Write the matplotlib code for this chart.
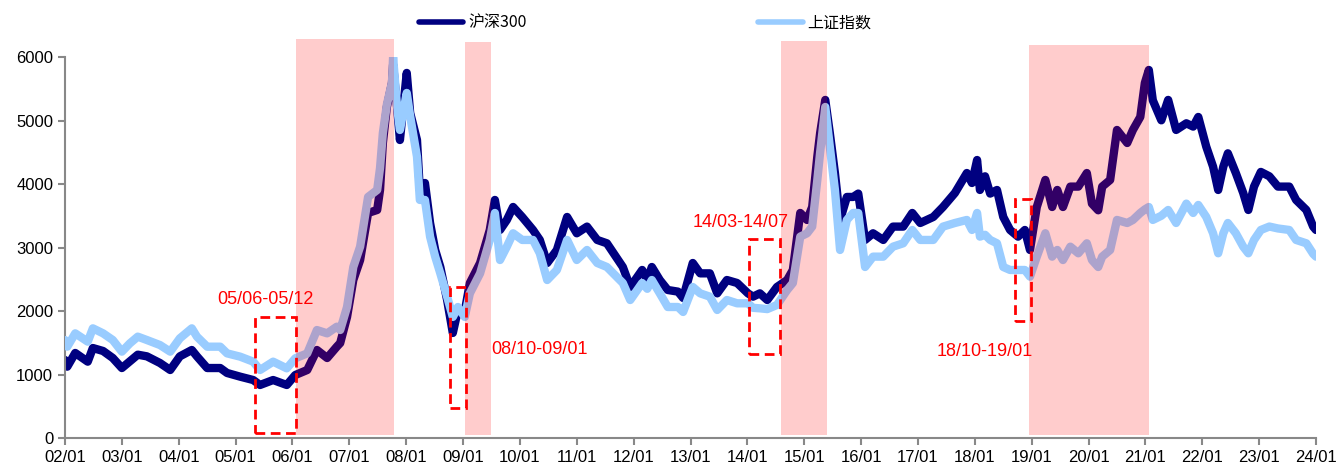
import matplotlib.pyplot as plt
from matplotlib.lines import Line2D
from matplotlib.patches import Rectangle

plt.rcParams['font.family'] = ['Liberation Sans', 'DejaVu Sans']

# decimal-year dates and closing levels
dates = [2002.00, 2002.04, 2002.18, 2002.40, 2002.49, 2002.67, 2002.84, 2003.00, 2003.14, 2003.28,
         2003.44, 2003.67, 2003.85, 2004.02, 2004.23, 2004.32, 2004.50, 2004.73, 2004.85, 2005.08,
         2005.31, 2005.43, 2005.66, 2005.90, 2006.05, 2006.26, 2006.43, 2006.61, 2006.78, 2006.84,
         2006.96, 2007.07, 2007.19, 2007.33, 2007.49, 2007.54, 2007.59, 2007.66, 2007.75, 2007.77,
         2007.84, 2007.89, 2008.01, 2008.07, 2008.19, 2008.24, 2008.33, 2008.42, 2008.51, 2008.60,
         2008.72, 2008.82, 2008.91, 2009.03, 2009.12, 2009.30, 2009.47, 2009.56, 2009.65, 2009.77,
         2009.88, 2010.04, 2010.23, 2010.35, 2010.48, 2010.65, 2010.83, 2011.00, 2011.18, 2011.36,
         2011.53, 2011.81, 2011.94, 2012.15, 2012.24, 2012.32, 2012.46, 2012.60, 2012.78, 2012.87,
         2013.04, 2013.17, 2013.34, 2013.47, 2013.64, 2013.82, 2014.01, 2014.10, 2014.22, 2014.35,
         2014.52, 2014.70, 2014.80, 2014.93, 2015.05, 2015.14, 2015.23, 2015.28, 2015.37, 2015.45,
         2015.54, 2015.63, 2015.75, 2015.86, 2015.95, 2016.07, 2016.21, 2016.39, 2016.56, 2016.74,
         2016.90, 2017.04, 2017.27, 2017.44, 2017.65, 2017.86, 2017.95, 2018.04, 2018.09, 2018.18,
         2018.27, 2018.39, 2018.50, 2018.62, 2018.76, 2018.88, 2018.97, 2019.09, 2019.24, 2019.36,
         2019.45, 2019.55, 2019.68, 2019.82, 2019.97, 2020.06, 2020.17, 2020.24, 2020.38, 2020.50,
         2020.68, 2020.78, 2020.91, 2020.99, 2021.06, 2021.13, 2021.28, 2021.40, 2021.54, 2021.72,
         2021.84, 2021.93, 2022.07, 2022.19, 2022.28, 2022.37, 2022.45, 2022.59, 2022.72, 2022.81,
         2022.91, 2023.03, 2023.18, 2023.33, 2023.53, 2023.65, 2023.83, 2023.95, 2024.00]

hs300 = [1228, 1123, 1339, 1202, 1417, 1370, 1260, 1102, 1207, 1312,
         1286, 1181, 1071, 1286, 1386, 1286, 1102, 1102, 1024, 966,
         913, 835, 913, 835, 992, 1071, 1386, 1260, 1438, 1496,
         1906, 2488, 2803, 3544, 3591, 3906, 4646, 5213, 5591, 5880,
         5213, 4693, 5749, 5119, 4693, 3906, 4016, 3386, 2961, 2693,
         2173, 1654, 2016, 1995, 2441, 2756, 3276, 3749, 3276, 3434,
         3638, 3481, 3276, 3119, 2756, 2961, 3481, 3224, 3329, 3119,
         3066, 2693, 2378, 2646, 2488, 2693, 2488, 2331, 2305, 2205,
         2756, 2593, 2593, 2278, 2488, 2441, 2278, 2226, 2278, 2173,
         2378, 2488, 2646, 3544, 3434, 3638, 4430, 4804, 5324, 4804,
         4173, 3434, 3796, 3796, 3849, 3119, 3224, 3119, 3329, 3329,
         3544, 3386, 3481, 3638, 3859, 4173, 4016, 4378, 3906, 4121,
         3849, 3906, 3481, 3276, 3171, 3276, 2961, 3638, 4064, 3638,
         3906, 3638, 3959, 3959, 4173, 3691, 3586, 3959, 4064, 4851,
         4646, 4851, 5056, 5591, 5796, 5318, 5003, 5324, 4851, 4956,
         4904, 5056, 4588, 4273, 3906, 4273, 4483, 4173, 3859, 3591,
         3959, 4190, 4121, 3959, 3959, 3749, 3591, 3329, 3276]

sh_index = [1543, 1438, 1648, 1517, 1727, 1648, 1543, 1360, 1490, 1596,
            1543, 1464, 1360, 1570, 1727, 1596, 1438, 1438, 1333, 1281,
            1202, 1071, 1202, 1097, 1255, 1333, 1700, 1648, 1753, 1701,
            2063, 2693, 3013, 3796, 3906, 4250, 4804, 5250, 5600, 6000,
            5213, 4851, 5434, 5067, 4430, 3749, 3749, 3171, 2856, 2593,
            2226, 1906, 2063, 1906, 2278, 2593, 3119, 3544, 2803, 3013,
            3224, 3119, 3119, 2909, 2488, 2646, 3119, 2803, 2961, 2756,
            2693, 2441, 2173, 2441, 2350, 2488, 2278, 2063, 2063, 1985,
            2378, 2278, 2226, 2016, 2173, 2121, 2121, 2050, 2042, 2030,
            2095, 2331, 2441, 3171, 3224, 3329, 4064, 4500, 5213, 4588,
            3906, 2961, 3434, 3544, 3544, 2693, 2856, 2856, 3013, 3066,
            3276, 3119, 3119, 3329, 3386, 3434, 3276, 3544, 3171, 3200,
            3119, 3066, 2693, 2646, 2646, 2646, 2541, 2856, 3224, 2856,
            2961, 2803, 3013, 2909, 3066, 2803, 2693, 2856, 2961, 3434,
            3386, 3434, 3544, 3600, 3638, 3434, 3500, 3591, 3386, 3691,
            3544, 3670, 3481, 3224, 2909, 3224, 3386, 3224, 3013, 2909,
            3119, 3276, 3330, 3300, 3276, 3119, 3066, 2900, 2856]

# shaded rally periods: start, end, top
shade_start = [2006.06, 2009.03, 2014.59, 2018.95]
shade_end = [2007.79, 2009.50, 2015.40, 2021.06]
shade_top = [6284, 6237, 6253, 6190]

# dashed bottom-zone boxes: start, end, low, high, label, label position
box_start = [2005.34, 2008.77, 2014.03, 2018.71]
box_end = [2006.06, 2009.05, 2014.58, 2018.99]
box_low = [84, 472, 1318, 1848]
box_high = [1911, 2383, 3129, 3760]
box_labels = ['05/06-05/12', '08/10-09/01', '14/03-14/07', '18/10-19/01']
label_x = [2005.52, 2010.35, 2013.89, 2018.18]
label_y = [2178, 1386, 3394, 1362]

years = list(range(2002, 2025))
year_labels = [f'{y % 100:02d}/01' for y in years]

fig = plt.figure(figsize=(13.36, 4.69), dpi=100)
ax = fig.add_axes([65 / 1336, 31 / 469, (1316 - 65) / 1336, (438 - 57) / 469])

navy = '#000080'
light = '#99CCFF'
ax.plot(dates, hs300, color=navy, lw=6, solid_joinstyle='round', solid_capstyle='round', zorder=2)
ax.plot(dates, sh_index, color=light, lw=6, solid_joinstyle='round', solid_capstyle='round', zorder=3)

for s, e, t in zip(shade_start, shade_end, shade_top):
    ax.add_patch(Rectangle((s, 40), e - s, t - 40, facecolor='red', alpha=0.2,
                           edgecolor='none', clip_on=False, zorder=4))

for s, e, lo, hi in zip(box_start, box_end, box_low, box_high):
    ax.add_patch(Rectangle((s, lo), e - s, hi - lo, facecolor='none', edgecolor='red',
                           lw=2, ls=(0, (3.5, 2)), clip_on=False, zorder=5))

for txt, x, y in zip(box_labels, label_x, label_y):
    ax.text(x, y, txt, color='red', fontsize=13, ha='center', va='center', zorder=6)

ax.set_xlim(2002, 2024)
ax.set_ylim(0, 6000)
ax.set_xticks(years)
ax.set_xticklabels(year_labels)
ax.set_yticks(range(0, 6001, 1000))
for side in ('top', 'right'):
    ax.spines[side].set_visible(False)
for side in ('left', 'bottom'):
    ax.spines[side].set_color('#888888')
    ax.spines[side].set_linewidth(1.5)
ax.tick_params(axis='both', direction='out', length=5, width=1.5, color='#888888',
               labelsize=12, labelcolor='black')

handles = [Line2D([], [], color=navy, lw=4, solid_capstyle='round'),
           Line2D([], [], color=light, lw=4, solid_capstyle='round')]
fig.legend(handles, ['沪深300', '上证指数'], loc='upper center', bbox_to_anchor=(645 / 1336, 1.0),
           ncol=2, frameon=False, handlelength=2.8, handletextpad=0.3, columnspacing=14.5,
           prop={'family': ['Noto Sans CJK SC', 'DejaVu Sans'], 'size': 11.5})

fig.savefig('out.png', dpi=100)
